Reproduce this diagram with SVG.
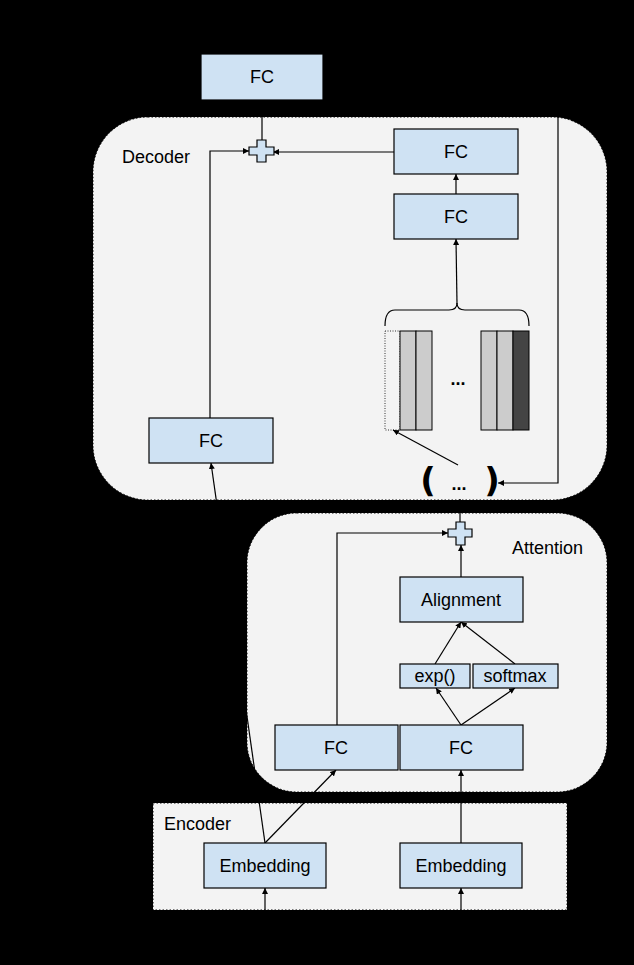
<svg xmlns="http://www.w3.org/2000/svg" width="634" height="965" viewBox="0 0 634 965">
<defs>
<marker id="ah" viewBox="0 0 10 10" refX="10" refY="5" markerWidth="6" markerHeight="6" markerUnits="userSpaceOnUse" orient="auto">
<path d="M0,0 L10,5 L0,10 z" fill="#000"/>
</marker>
<style>
.cont{fill:#f3f3f3;stroke:#000;stroke-width:1;stroke-dasharray:1.5,2}
.box{fill:#cfe2f3;stroke:#000;stroke-width:1.2}
.t{font-family:"Liberation Sans",Arial,sans-serif;font-size:18px;fill:#000;text-anchor:middle;dominant-baseline:central}
.lbl{font-family:"Liberation Sans",Arial,sans-serif;font-size:18px;fill:#000}
.c{fill:none;stroke:#000;stroke-width:1.2}
.a{fill:none;stroke:#000;stroke-width:1.2;marker-end:url(#ah)}
.bar{fill:#cccccc;stroke:#000;stroke-width:1}
.par{font-family:"DejaVu Sans","Liberation Sans",sans-serif;font-size:34px;font-weight:bold;fill:#000;text-anchor:middle;dominant-baseline:central}
</style>
</defs>
<rect x="0" y="0" width="634" height="965" fill="#000"/>

<g id="decoder">
<rect class="cont" x="93" y="117" width="514" height="383" rx="55" ry="55"/>
<text class="lbl" x="122" y="163">Decoder</text>
</g>
<g id="attention">
<rect class="cont" x="247" y="513" width="360" height="279" rx="50" ry="50"/>
<text class="lbl" x="512" y="554">Attention</text>
</g>
<g id="encoder">
<rect class="cont" x="153" y="803" width="414" height="107" fill="#efefef"/>
<text class="lbl" x="164" y="830">Encoder</text>
</g>

<g id="connectors">
<line class="c" x1="262" y1="54" x2="262" y2="0"/>
<polyline class="a" points="323,76 558,76 558,483 498,483"/>
<line class="c" x1="262" y1="100" x2="262" y2="141"/>
<polyline class="a" points="210,418 210,151 249,151"/>
<line class="a" x1="394" y1="152" x2="273" y2="152"/>
<line class="a" x1="456" y1="194" x2="456" y2="174"/>
<line class="a" x1="457" y1="304" x2="456" y2="239"/>
<path class="c" d="M385,326 Q385,310 395,310 L449,310 Q457,310 457,303 Q457,310 465,310 L519,310 Q529,310 529,326"/>
<line class="a" x1="458" y1="465" x2="393" y2="430"/>
<line class="a" x1="460" y1="522" x2="460" y2="499"/>
<polyline class="a" points="337,725 337,533 448,533"/>
<line class="a" x1="461" y1="577" x2="461" y2="545"/>
<line class="a" x1="435" y1="664" x2="461" y2="622"/>
<line class="a" x1="515" y1="664" x2="461" y2="622"/>
<line class="a" x1="461" y1="725" x2="436" y2="688"/>
<line class="a" x1="461" y1="725" x2="515" y2="688"/>
<line class="a" x1="265" y1="843" x2="336" y2="770"/>
<line class="a" x1="461" y1="843" x2="461" y2="770"/>
<line class="a" x1="265" y1="843" x2="211" y2="463"/>
<line class="a" x1="265" y1="965" x2="265" y2="888"/>
<line class="a" x1="461" y1="965" x2="461" y2="888"/>
</g>

<g id="fc-top"><rect class="box" x="201" y="54" width="122" height="46"/><text class="t" x="262" y="77">FC</text></g>
<g id="plus-dec"><path class="box" d="M257,140 h9 v7 h8 v8 h-8 v7 h-9 v-7 h-8 v-8 h8 z"/></g>
<g id="fc-dec-1"><rect class="box" x="394" y="129" width="124" height="45"/><text class="t" x="456" y="152">FC</text></g>
<g id="fc-dec-2"><rect class="box" x="394" y="194" width="124" height="45"/><text class="t" x="456" y="217">FC</text></g>
<g id="fc-dec-left"><rect class="box" x="149" y="418" width="124" height="45"/><text class="t" x="211" y="441">FC</text></g>
<g id="states">
<rect x="385" y="331" width="15" height="99" fill="none" stroke="#000" stroke-width="0.8" stroke-dasharray="1,1.5"/>
<rect class="bar" x="400" y="331" width="16" height="99"/>
<rect class="bar" x="416" y="331" width="16" height="99"/>
<text class="t" x="458" y="379" font-weight="bold">...</text>
<rect class="bar" x="481" y="331" width="16" height="99"/>
<rect class="bar" x="497" y="331" width="16" height="99"/>
<rect x="513" y="331" width="16" height="99" fill="#444" stroke="#000" stroke-width="1"/>
</g>
<g id="context">
<text class="par" x="428" y="480">(</text>
<text class="t" x="459" y="484" font-weight="bold">...</text>
<text class="par" x="492" y="480">)</text>
</g>
<g id="plus-att"><path class="box" d="M456,522 h9 v7 h7 v8 h-7 v8 h-9 v-8 h-8 v-8 h8 z"/></g>
<g id="alignment"><rect class="box" x="400" y="577" width="123" height="45"/><text class="t" x="461" y="600">Alignment</text></g>
<g id="exp"><rect class="box" x="400" y="664" width="70" height="24"/><text class="t" x="435" y="676">exp()</text></g>
<g id="softmax"><rect class="box" x="473" y="664" width="85" height="24"/><text class="t" x="515" y="676">softmax</text></g>
<g id="fc-att-left"><rect class="box" x="275" y="725" width="123" height="45"/><text class="t" x="336" y="748">FC</text></g>
<g id="fc-att-right"><rect class="box" x="400" y="725" width="123" height="45"/><text class="t" x="461" y="748">FC</text></g>
<g id="emb-left"><rect class="box" x="204" y="843" width="122" height="45"/><text class="t" x="265" y="866">Embedding</text></g>
<g id="emb-right"><rect class="box" x="400" y="843" width="122" height="45"/><text class="t" x="461" y="866">Embedding</text></g>
</svg>
